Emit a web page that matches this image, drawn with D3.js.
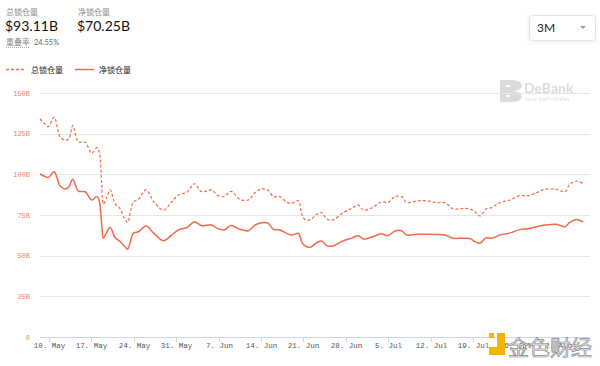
<!DOCTYPE html>
<html><head><meta charset="utf-8">
<script src="https://cdn.jsdelivr.net/npm/d3@7"></script>
<style>
html,body{margin:0;padding:0;background:#fff;}
svg{display:block;font-family:"Noto Sans CJK SC","Noto Sans",sans-serif;}
</style></head>
<body><svg id="c" width="600" height="366"></svg>
<script>
const dates = ["2021-05-08T12","2021-05-09T04","2021-05-09T21","2021-05-10T20","2021-05-11T20","2021-05-12T19","2021-05-13T07","2021-05-13T22","2021-05-14T20","2021-05-15T23",
"2021-05-17T01","2021-05-17T21","2021-05-18T06","2021-05-18T17","2021-05-18T23","2021-05-19T13","2021-05-20T02","2021-05-20T22","2021-05-21T17","2021-05-22T10",
"2021-05-22T23","2021-05-23T22","2021-05-24T18","2021-05-26T00","2021-05-27T08","2021-05-28T21","2021-05-30T06","2021-05-31T08","2021-06-01T18","2021-06-03T00",
"2021-06-04T05","2021-06-05T21","2021-06-06T18","2021-06-07T21","2021-06-09T01","2021-06-10T13","2021-06-11T22","2021-06-13T00","2021-06-14T03","2021-06-15T05",
"2021-06-16T01","2021-06-17T03","2021-06-18T06","2021-06-19T02","2021-06-20T04","2021-06-20T17","2021-06-21T06","2021-06-22T02","2021-06-23T05","2021-06-24T01",
"2021-06-24T22","2021-06-25T22","2021-06-27T14","2021-06-28T23","2021-06-30T02","2021-06-30T21","2021-07-02T08","2021-07-03T20","2021-07-05T00","2021-07-06T03",
"2021-07-07T06","2021-07-08T01","2021-07-09T17","2021-07-11T09","2021-07-13T00","2021-07-14T09","2021-07-15T18","2021-07-17T03","2021-07-18T12","2021-07-19T08",
"2021-07-20T04","2021-07-21T04","2021-07-22T02","2021-07-23T11","2021-07-25T03","2021-07-26T18","2021-07-28T03","2021-07-29T12","2021-07-30T21","2021-08-01T20",
"2021-08-03T05","2021-08-04T00","2021-08-05T03","2021-08-06T05"];
const totalLocked = [134,131.5,129.3,135,123,121,122,130,120,119.7,
113,116.4,114,93,81.7,86,90.4,82,79,73,
70.5,83,84.6,90.4,83,78,83,87.3,89,94.2,
89.3,90.4,87.3,86.3,89.5,84.6,84.2,88.7,91,90,
86.3,86.3,82.8,82.2,83.8,76,72.3,72,75.4,76.4,
72.3,72,76.5,79,81.1,78,79.5,83,82.8,86.3,
86.3,82.7,83.6,83.8,82.6,82.6,78.7,79,78.7,77,
74.4,78.7,79.5,82.6,84.2,86.9,86.9,88.7,90.8,90.8,
89.3,93.9,95.9,94.3];
const netLocked = [100.2,99,98,101.6,92.8,91,92.5,97,89.7,89.3,
84.2,86.3,84.2,68.8,60.7,64.5,67.4,61,58.8,56,
54,63.7,64.7,68.2,63.7,59.2,62.7,65.8,67.2,70.9,
68.4,68.9,66.8,65.8,68.5,66.2,65.3,68.8,70.3,69.9,
66.2,65.8,63.7,62.7,63.7,58.6,56,55.1,58,59,
56,56,59.2,60.8,62.3,60.2,61.5,63.5,62.3,65.2,
65.2,62.7,63.1,63.1,63,62.7,60.7,60.7,60.5,58.6,
57.6,61,60.7,62.7,64,66,66.6,67.8,68.8,69.3,
67.8,70.5,72.3,70.6];
const yTicks = [0,25,50,75,100,125,150];
const yTickLabels = ["0","25B","50B","75B","100B","125B","150B"];
const xTickDates = ["2021-05-10","2021-05-17","2021-05-24","2021-05-31","2021-06-07","2021-06-14","2021-06-21","2021-06-28","2021-07-05","2021-07-12","2021-07-19","2021-07-26","2021-08-02"];
const seriesNames = ["总锁仓量","净锁仓量"];
const headerValues = ["$93.11B","$70.25B"];
const overlapLabel = "重叠率", overlapValue = "24.55%";

const svg = d3.select("#c");
const parse = s => new Date(s.length > 10 ? s + ":00:00Z" : s + "T00:00:00Z");
const pts = dates.map(parse);
const x = d3.scaleUtc().domain([parse("2021-05-08T12"), parse("2021-08-07T08")]).range([40, 590]);
const y = d3.scaleLinear().domain([0,150]).range([337, 93]);
const color = "#f26a48";

// header
const hdr = svg.append("g");
[[6,0],[78,1]].forEach(([hx,i]) => {
  hdr.append("text").attr("x",hx).attr("y",15).attr("font-size",8).attr("fill","#8a8a8a").text(seriesNames[i]);
  hdr.append("text").attr("x",hx-1).attr("y",31).attr("font-size",14).attr("font-family","Lato, 'Noto Sans', sans-serif").attr("fill","#111").text(headerValues[i]);
});
hdr.append("text").attr("x",6).attr("y",45).attr("font-size",8).attr("fill","#8a8a8a").text(overlapLabel);
hdr.append("line").attr("x1",6).attr("x2",30).attr("y1",47.5).attr("y2",47.5).attr("stroke","#aaa").attr("stroke-dasharray","1,1");
hdr.append("text").attr("x",34).attr("y",45).attr("font-size",7.5).attr("font-family","Lato, sans-serif").attr("fill","#666").text(overlapValue);

// dropdown
const dd = svg.append("g");
dd.append("rect").attr("x",529.5).attr("y",15.5).attr("width",66).attr("height",25).attr("rx",3)
  .attr("fill","#fff").attr("stroke","#e3e3e3").style("filter","drop-shadow(0 1px 2px rgba(0,0,0,0.08))");
dd.append("text").attr("x",537).attr("y",32).attr("font-size",12).attr("font-family","Lato, sans-serif").attr("fill","#222").text("3M");
dd.append("path").attr("d","M580,26 L586,26 L583,29 Z").attr("fill","#999");

// legend
const lg = svg.append("g");
lg.append("line").attr("x1",6).attr("x2",26).attr("y1",69.5).attr("y2",69.5).attr("stroke",color).attr("stroke-width",1.3).attr("stroke-dasharray","3,2");
lg.append("text").attr("x",31).attr("y",72.5).attr("font-size",8).attr("fill","#222").text(seriesNames[0]);
lg.append("line").attr("x1",75).attr("x2",94).attr("y1",69.5).attr("y2",69.5).attr("stroke",color).attr("stroke-width",1.5);
lg.append("text").attr("x",99).attr("y",72.5).attr("font-size",8).attr("fill","#222").text(seriesNames[1]);

// DeBank watermark
const wm = svg.append("g").attr("opacity",0.35);
wm.append("path").attr("d","M500,80 h12 a10,5.5 0 0 1 0,11 a10,5.5 0 0 1 0,11 h-12 z M506,85 v2 h4 v-2 z M506,95 v2 h4 v-2 z").attr("fill","#999").attr("fill-rule","evenodd");
wm.append("text").attr("x",524).attr("y",93).attr("font-size",14).attr("font-weight","bold").attr("font-family","Lato, sans-serif").attr("fill","#999").text("DeBank");
wm.append("text").attr("x",525).attr("y",101).attr("font-size",6).attr("font-family","Lato, sans-serif").attr("fill","#999").text("Your DeFi Wallet");

// grid
const grid = svg.append("g");
yTicks.forEach((t,i) => {
  grid.append("line").attr("x1",40).attr("x2",590).attr("y1",Math.round(y(t))+0.5).attr("y2",Math.round(y(t))+0.5)
    .attr("stroke", t===0 ? "#ccd6eb" : "#e6e6e6").attr("stroke-width",1);
  grid.append("text").attr("x",30).attr("y",y(t)+2.5).attr("text-anchor","end").attr("font-size",7)
    .attr("font-family","'Liberation Mono', monospace").attr("fill","#f0866c").text(yTickLabels[i]);
});
// x axis
const xa = svg.append("g");
xTickDates.forEach(s => {
  const d = parse(s), px = Math.round(x(d))+0.5;
  xa.append("line").attr("x1",px).attr("x2",px).attr("y1",337).attr("y2",342).attr("stroke","#ccd6eb");
  xa.append("text").attr("x",px).attr("y",348).attr("text-anchor","middle").attr("font-size",7.5)
    .attr("font-family","'Liberation Mono', monospace").attr("fill","#555").text(d3.utcFormat("%-d. %b")(d));
});

// lines
const line = v => d3.line().x((d,i)=>x(pts[i])).y(d=>y(d)).curve(d3.curveCatmullRom.alpha(0.5))(v);
svg.append("path").attr("d",line(totalLocked)).attr("fill","none").attr("stroke",color).attr("stroke-width",1.2).attr("stroke-dasharray","3,2");
svg.append("path").attr("d",line(netLocked)).attr("fill","none").attr("stroke",color).attr("stroke-width",1.5);

// Jinse watermark
const jw = svg.append("g");
jw.append("rect").attr("x",489).attr("y",333).attr("width",5).attr("height",5).attr("fill","#f5b400");
jw.append("path").attr("d","M497,333 h8 v22 h-16 v-8 h8 z").attr("fill","#f5b400");
jw.append("text").attr("x",508).attr("y",355).attr("font-size",21).attr("fill","#e9e9e9").attr("stroke","#8c8c8c").attr("stroke-width",0.7).text("金色财经");
</script></body></html>
